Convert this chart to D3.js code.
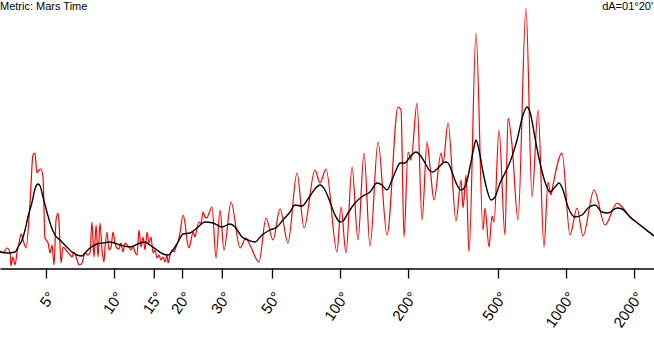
<!DOCTYPE html>
<html>
<head>
<meta charset="utf-8">
<script src="https://cdn.jsdelivr.net/npm/d3@7"></script>
<style>
  body { margin: 0; background: #fff; }
  svg { display: block; font-family: "Liberation Sans", Arial, sans-serif; }
</style>
</head>
<body>
<svg width="654" height="352"></svg>
<script>
// arc in degrees (log axis) and strength, red = raw, black = smoothed
var redDeg = [3.13, 3.23, 3.36, 3.47, 3.50, 3.57, 3.65, 3.72, 3.80, 3.88, 3.96, 4.08, 4.25, 4.38, 4.47,
    4.56, 4.66, 4.75, 4.85, 4.95, 5.11, 5.21, 5.32, 5.43, 5.54, 5.65, 5.71, 5.83, 5.95, 6.13,
    6.39, 6.52, 6.65, 6.86, 7.00, 7.22, 7.44, 7.67, 7.83, 7.99, 8.16, 8.33, 8.50, 8.67, 8.85,
    9.03, 9.13, 9.31, 9.50, 9.70, 9.90, 10.10, 10.31, 10.52, 10.74, 10.96, 11.19, 11.42, 11.65, 11.89,
    12.14, 12.39, 12.64, 12.90, 13.17, 13.44, 13.72, 14.00, 14.29, 14.58, 14.88, 15.19, 15.50, 15.82, 16.14,
    16.48, 16.82, 17.16, 17.34, 17.69, 18.06, 18.43, 18.81, 19.19, 19.59, 20.20, 20.62, 21.04, 21.47, 21.92,
    22.37, 22.83, 23.30, 23.78, 24.27, 24.77, 25.28, 25.80, 26.33, 27.15, 28.28, 29.45, 30.67, 32.94, 36.11,
    38.37, 39.97, 43.81, 47.05, 50.52, 54.27, 58.88, 64.52, 69.30, 77.51, 81.56, 86.70, 96.99, 101.0, 106.3,
    113.0, 120.1, 127.7, 135.8, 147.3, 161.4, 180.6, 186.2, 191.9, 200.0, 206.2, 219.2, 230.7, 242.7, 250.2,
    260.6, 279.9, 285.7, 300.6, 326.1, 343.1, 350.2, 361.1, 372.3, 399.7, 429.3, 438.1, 456.4, 470.5, 480.2,
    505.2, 537.1, 553.8, 576.8, 613.1, 665.3, 707.3, 751.8, 799.1, 832.4, 858.2, 875.9, 960.1, 1041.6, 1118.5,
    1188.9, 1330.2, 1487.9, 1681.5, 1769.5, 1919.6, 2125.5, 2450.7]
var redVal = [17, 15, 20, 15, 2, 11, 3, 15, 25, 34, 28, 20, 65, 113, 115,
    95, 98, 99, 91, 30, 25, 15, 23, 3, 48, 55, 46, 5, 21, 18,
    13, 11, 16, 8, 3, 5, 15, 13, 15, 46, 11, 43, 11, 45, 18,
    6, 21, 36, 18, 21, 36, 25, 20, 19, 25, 16, 25, 23, 21, 18,
    21, 16, 13, 38, 21, 31, 18, 36, 25, 31, 15, 18, 10, 13, 8,
    11, 6, 13, 5, 13, 18, 16, 21, 26, 35, 53, 45, 28, 20, 28,
    36, 31, 40, 46, 45, 56, 51, 50, 55, 61, 10, 58, 18, 66, 20,
    30, 23, 6, 50, 28, 59, 25, 95, 40, 98, 85, 99, 16, 61, 15,
    101, 28, 115, 22, 126, 33, 161, 158, 31, 116, 108, 165, 48, 126, 101,
    68, 115, 105, 145, 47, 88, 60, 93, 16, 235, 38, 60, 21, 52, 46,
    138, 33, 150, 123, 48, 260, 71, 158, 21, 86, 73, 83, 115, 33, 60,
    32, 78, 43, 65, 61, 51, 43, 32]

var smoothDeg = [3.13, 3.40, 3.65, 3.76, 3.92, 4.04, 4.16, 4.34, 4.47, 4.61, 4.71, 4.85, 5.05, 5.21, 5.48,
    5.77, 6.19, 6.52, 6.86, 7.22, 7.44, 7.83, 8.41, 8.94, 9.60, 10.63, 11.77, 13.03, 13.72, 14.43,
    15.50, 16.48, 17.34, 18.24, 19.19, 20.20, 21.69, 23.30, 25.28, 27.42, 30.05, 32.60, 34.31, 36.84, 39.17,
    42.06, 45.17, 49.00, 52.63, 55.95, 60.09, 63.22, 67.90, 72.18, 77.51, 81.56, 85.83, 90.31, 95.04, 100.0,
    103.1, 108.5, 116.5, 126.4, 135.8, 145.8, 153.4, 161.4, 169.8, 178.7, 184.3, 193.9, 204.0, 216.9, 225.9,
    237.8, 250.2, 257.9, 271.4, 291.5, 300.6, 313.0, 329.4, 343.1, 357.4, 376.0, 391.7, 399.7, 412.1, 429.3,
    447.2, 465.7, 485.1, 510.5, 537.1, 565.2, 607.0, 645.3, 672.1, 692.9, 729.2, 767.3, 807.4, 849.5, 894.0,
    931.2, 969.9, 1020.6, 1096.0, 1177.2, 1251.2, 1343.7, 1443.0, 1534.1, 1681.5, 1769.5, 1919.6, 2125.5, 2450.7]
var smoothVal = [16, 15, 16, 21, 28, 38, 51, 66, 79, 84, 82, 71, 56, 45, 33,
    28, 21, 16, 13, 12, 15, 20, 24, 25, 26, 23, 21, 25, 26, 23,
    18, 14, 13, 18, 26, 34, 35, 40, 46, 45, 41, 44, 41, 31, 28,
    26, 33, 38, 41, 48, 56, 63, 62, 69, 79, 83, 78, 66, 53, 46,
    47, 55, 65, 72, 76, 85, 83, 78, 88, 100, 105, 105, 111, 116, 113,
    105, 97, 96, 100, 106, 105, 96, 83, 78, 81, 101, 121, 128, 118, 96,
    78, 68, 71, 85, 95, 106, 128, 153, 161, 156, 130, 105, 86, 76, 81,
    85, 78, 61, 51, 53, 60, 63, 56, 55, 60, 59, 51, 43, 32]

var tickVals = [5, 10, 15, 20, 30, 50, 100, 200, 500, 1000, 2000]

var metricLabel = "Metric: Mars Time"
var dALabel = "dA=01°20'"

var W = 654, base = 268

var svg = d3.select("svg")

var x = d3.scaleLog().domain(d3.extent(redDeg)).range([0, W])
var y = d3.scaleLinear().domain([0, d3.max(redVal)]).range([base, 8])

var red = redDeg.map((d, i) => [d, redVal[i]])
var smooth = smoothDeg.map((d, i) => [d, smoothVal[i]])

var line = d3.line()
    .x(d => x(d[0])).y(d => y(d[1]))
    .curve(d3.curveMonotoneX)

//rote Rohkurve
svg.append("path").datum(red)
    .attr("fill", "none").attr("stroke", "#ff0000").attr("stroke-width", 1.2)
    .attr("d", line)

//schwarze geglättete Kurve
svg.append("path").datum(smooth)
    .attr("fill", "none").attr("stroke", "#000").attr("stroke-width", 1.4)
    .attr("d", line)

//x-Achse
var ax = svg.append("g").attr("transform", "translate(0," + (base + 0.5) + ")")
    .call(d3.axisBottom(x).tickValues(tickVals).tickFormat(d => d + "°")
        .tickSize(10).tickSizeOuter(0))
ax.select(".domain").attr("stroke-width", 1.3)
ax.selectAll(".tick line").attr("stroke-width", 1.3)
ax.selectAll(".tick text")
    .attr("x", 0).attr("y", 0).attr("dy", "0.35em")
    .attr("transform", "translate(5,25) rotate(-55)")
    .style("text-anchor", "end").style("font-size", "15px")
    .attr("font-family", "'Liberation Sans', Arial, sans-serif")

svg.append("text").attr("x", 0).attr("y", 10)
    .style("font-size", "11px").text(metricLabel)
svg.append("text").attr("x", W - 1).attr("y", 10)
    .style("font-size", "11px").style("text-anchor", "end").text(dALabel)
</script>
</body>
</html>
